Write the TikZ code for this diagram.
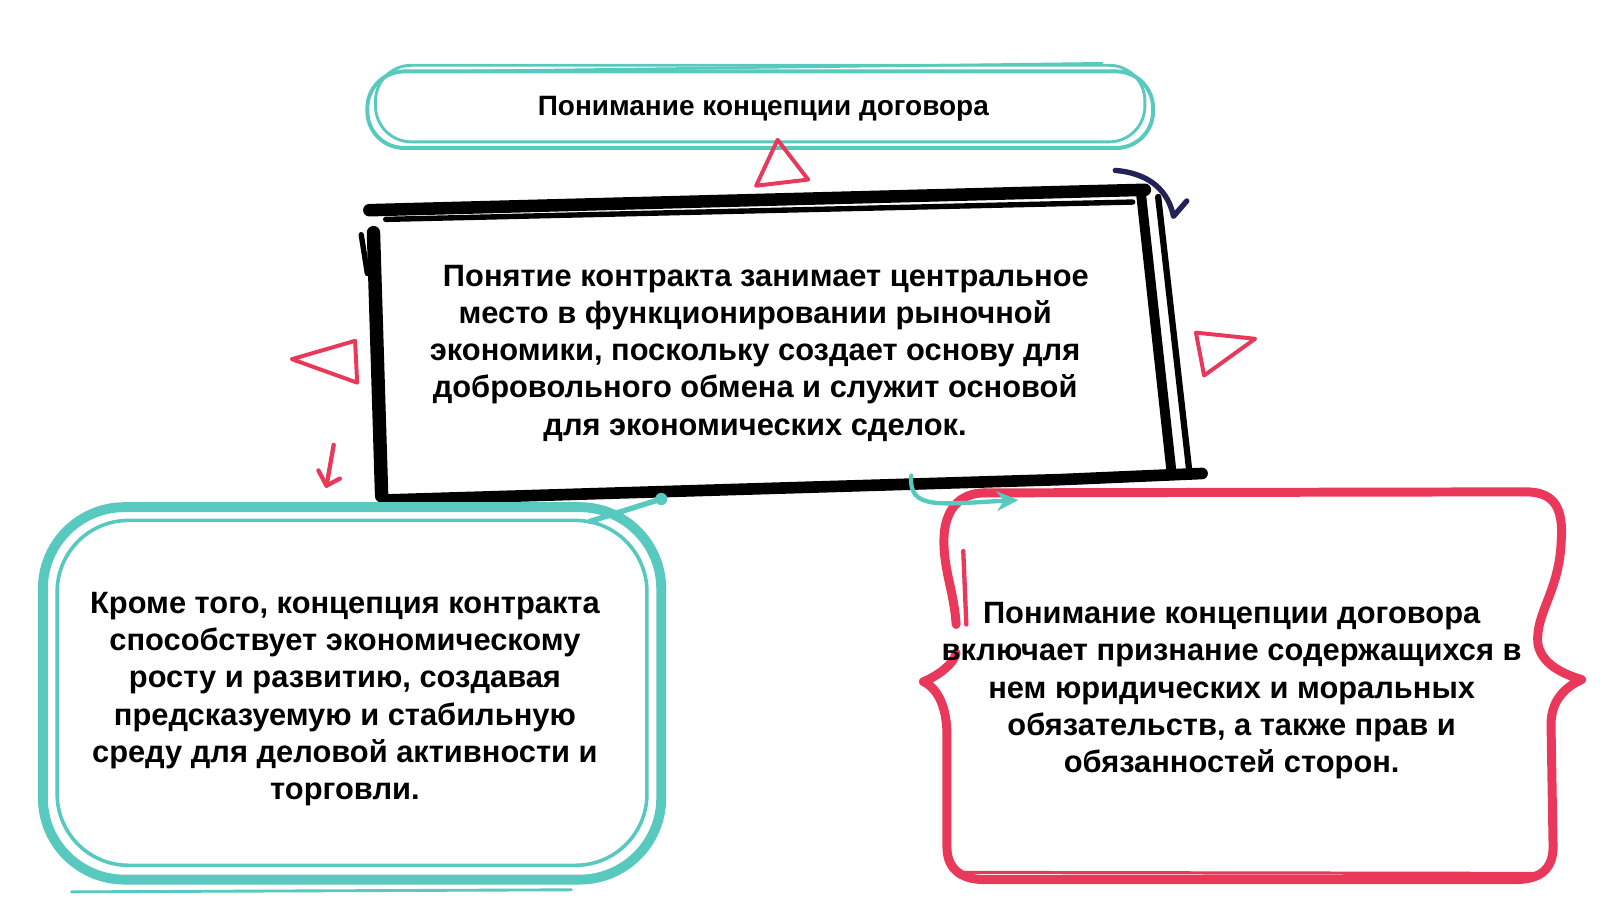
\documentclass[tikz,border=0pt]{standalone}
\usepackage{fontspec}
\setmainfont{Liberation Sans}
\usetikzlibrary{arrows.meta}
\definecolor{tealink}{RGB}{88,201,191}
\definecolor{redink}{RGB}{233,56,90}
\definecolor{navyink}{RGB}{34,34,86}
\tikzset{pen/.style={line width=#1, line cap=round, line join=round},
  tealpen/.style={tealink, pen=#1}, redpen/.style={redink, pen=#1}, blackpen/.style={black, pen=#1},
  tri/.style={redink, pen=2.2pt},
  txt/.style={align=center, inner sep=0pt, font=\fontsize{17.2}{20.8}\selectfont\bfseries}}

\begin{document}
\begin{tikzpicture}[x=0.02cm,y=-0.02cm]
   \useasboundingbox (0,0) rectangle (1568,882);
   \fill[white] (0,0) rectangle (1568,882);
   \begin{scope}
    \draw[tealpen=2.2pt, rounded corners=0.72cm] (360,70) rectangle (1130,145);
    \draw[tealpen=1.6pt, rounded corners=0.7cm] (368,64) rectangle (1122,139);
    \draw[tealpen=1.4pt] (430,70) -- (1080,62);
    \node[font=\fontsize{15.6}{18}\selectfont\bfseries] (title) at (748,107) {Понимание концепции договора};
   \end{scope}
   \draw[tri] (762,137) -- (741,182) -- (792,176) -- cycle;
   \begin{scope}
    \draw[blackpen=7pt] (362,206) -- (1122,186);
    \draw[blackpen=3pt] (378,215) -- (1110,198);
    \draw[blackpen=5.5pt] (1118,188) -- (1148,462);
    \draw[blackpen=3.5pt] (1135,193) -- (1166,466);
    \draw[blackpen=6.5pt] (1178,464) -- (1040,470) -- (378,490);
    \draw[blackpen=7.5pt] (366,228) -- (374,486);
    \draw[blackpen=3pt] (354,230) -- (360,268);
    \draw[navyink, pen=3pt] (1093,167) .. controls (1128,170) and (1145,188) .. (1150,212) -- (1163,197);
    \node[txt] (core) at (740,346) {\hspace*{0.7em}Понятие контракта занимает центральное\\место в функционировании рыночной\\экономики, поскольку создает основу для\\добровольного обмена и служит основой\\для экономических сделок.};
   \end{scope}
   \draw[tri] (348,334) -- (286,352) -- (350,375) -- cycle;
   \draw[tri] (1172,326) -- (1230,332) -- (1180,368) -- cycle;
   \draw[redpen=2.4pt] (327,436) -- (320,476) -- (333,469);
   \draw[redpen=2.4pt] (312,461) -- (320,476);
   \begin{scope}
    \draw[tealpen=5.5pt, rounded corners=1.6cm] (42,497) rectangle (648,862);
    \draw[tealpen=2pt, rounded corners=1.4cm] (56,510) rectangle (634,848);
    \draw[tealpen=1.6pt] (70,874) -- (560,872);
    \draw[tealpen=3pt] (578,511) -- (648,489);
    \fill[tealink] (648,489) circle (6);
    \node[txt] (growth) at (338,685) {Кроме того, концепция контракта\\способствует экономическому\\росту и развитию, создавая\\предсказуемую и стабильную\\среду для деловой активности и\\торговли.};
   \end{scope}
   \begin{scope}
    \draw[redpen=5pt] (965,483) -- (1495,482) .. controls (1525,482) and (1532,500) .. (1530,530)
          .. controls (1528,580) and (1505,600) .. (1507,630) .. controls (1510,650) and (1530,660) .. (1550,666)
          .. controls (1530,675) and (1520,690) .. (1520,710) -- (1522,830)
          .. controls (1522,855) and (1505,862) .. (1485,862) -- (965,862)
          .. controls (940,862) and (928,850) .. (928,830) -- (928,720)
          .. controls (928,695) and (920,675) .. (905,668) .. controls (920,662) and (935,650) .. (937,640);
    \draw[redpen=5pt] (937,612) .. controls (935,580) and (925,560) .. (925,530) .. controls (925,500) and (940,483) .. (965,483);
    \draw[redpen=2.4pt] (944,540) -- (947,612);
    \draw[redpen=1.8pt] (945,855) -- (1505,856);
    \node[txt] (duty) at (1207,677) {Понимание концепции договора\\включает признание содержащихся в\\нем юридических и моральных\\обязательств, а также прав и\\обязанностей сторон.};
   \end{scope}
   \coordinate (corefoot) at (893,466);
   \coordinate (dutytop) at (998,490);
   \draw[tealpen=2.4pt, -{Stealth[length=12pt,width=11pt]}] (corefoot) .. controls (890,500) and (920,494) .. (dutytop);
\end{tikzpicture}
\end{document}
